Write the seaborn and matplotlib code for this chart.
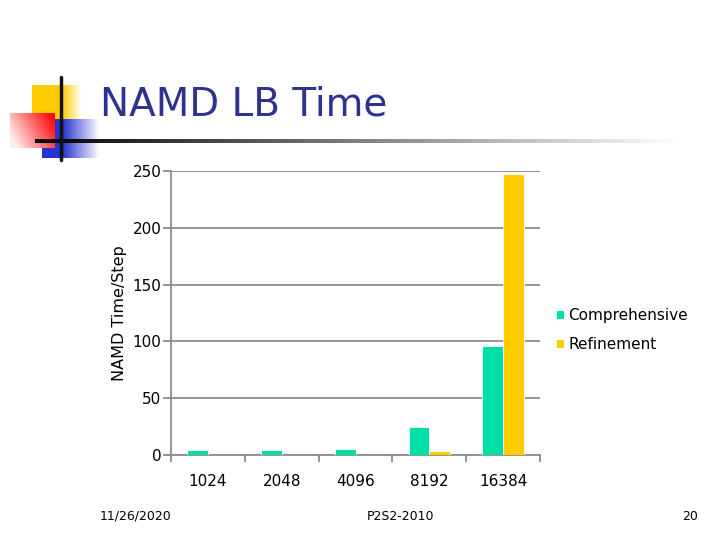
import numpy as np
import pandas as pd
import seaborn as sns
from matplotlib import pyplot as plt

# values
procs = ["1024", "2048", "4096", "8192", "16384"]
comprehensive = [4.5, 4.5, 5.5, 25, 96]
refinement = [0, 0, 0.3, 3.5, 247.5]
series_names = ["Comprehensive", "Refinement"]
y_ticks = [0, 50, 100, 150, 200, 250]

df = pd.DataFrame({
    "Processors": procs * 2,
    "Time": comprehensive + refinement,
    "Strategy": [series_names[0]] * len(procs) + [series_names[1]] * len(procs),
})

sns.set_style("white")
plt.rcParams['font.family'] = ['DejaVu Sans']
plt.rcParams['text.color'] = 'black'

fig = plt.figure(figsize=(7.2, 5.4), dpi=100)

# slide decorations drawn in pixel coordinates
bg = fig.add_axes([0, 0, 1, 1], zorder=-1)
bg.set_xlim(0, 720)
bg.set_ylim(540, 0)
bg.axis("off")


def fade_rect(ax, x0, x1, y0, y1, rgb, amount):
    # colour blended toward white, opaque
    rgb = np.array(rgb)
    img = amount[..., None] * rgb + (1 - amount[..., None]) * 1.0
    ax.imshow(img, extent=(x0, x1, y1, y0), interpolation="bilinear", aspect="auto")


n = 64
xs = np.linspace(0, 1, n)
xx, yy = np.meshgrid(xs, xs)
# yellow square, fading out on the right
fade_rect(bg, 32, 82, 85, 120, (1.0, 0.8, 0.0), np.clip((1 - xx) / 0.4, 0, 1))
# blue square, fading out on the right
fade_rect(bg, 42, 100, 119, 158, (0.15, 0.2, 0.8), np.clip((1 - xx) / 0.65, 0, 1))
# red square, strong on the right, pale at bottom-left
red_amt = np.clip(0.3 + 0.8 * xx - 0.35 * yy, 0.08, 1)
fade_rect(bg, 10, 55, 113, 148, (1.0, 0.05, 0.05), red_amt)
# lines
bg.plot([61, 61], [77, 160], color="#111111", lw=2.5)
grad = np.tile(np.linspace(0, 1, 256), (2, 1))
bg.imshow(grad, cmap="gray", vmin=0, vmax=1, extent=(35, 680, 143, 139),
          aspect="auto", interpolation="bilinear")

fig.text(100, 540 - 115, "NAMD LB Time", transform=None, fontsize=28,
         color="#2E3192", va="baseline", ha="left")

# chart
ax = fig.add_axes([171 / 720, 85 / 540, 369 / 720, 284 / 540])
sns.barplot(data=df, x="Processors", y="Time", hue="Strategy",
            palette=["#00DFA6", "#FFCC00"], width=0.56, ax=ax,
            saturation=1, errorbar=None, zorder=3, edgecolor="white", linewidth=0.6)
ax.set_ylim(0, 250)
ax.set_xlim(-0.5, len(procs) - 0.5)
ax.set_yticks(y_ticks)
ax.yaxis.grid(True, color="#8c8c8c", lw=1.3, zorder=0)
ax.set_axisbelow(True)
for s in ["top", "right"]:
    ax.spines[s].set_visible(False)
for s in ["left", "bottom"]:
    ax.spines[s].set_color("#8c8c8c")
    ax.spines[s].set_linewidth(1.3)
ax.tick_params(axis="y", left=True, length=6, width=1.3, color="#8c8c8c",
               pad=1, labelsize=11, labelcolor="black")
ax.tick_params(axis="x", bottom=False, length=0, pad=14, labelsize=11,
               labelcolor="black")
ax.set_xticks(np.arange(len(procs) + 1) - 0.5, minor=True)
ax.tick_params(axis="x", which="minor", bottom=True, length=5, width=1.3,
               color="#8c8c8c")
ax.set_xlabel("")
ax.set_ylabel("NAMD Time/Step", fontsize=11.5, color="black")
ax.yaxis.set_label_coords(-0.12, 0.5)

handles, labels = ax.get_legend_handles_labels()
ax.get_legend().remove()
fig.legend(handles, labels, loc="upper left", bbox_to_anchor=(556 / 720, 1 - 308 / 540),
           frameon=False, fontsize=11, handlelength=0.55, handleheight=0.55,
           handletextpad=0.25, labelspacing=0.9, borderaxespad=0, borderpad=0)

# footer
fig.text(100, 540 - 516, "11/26/2020", transform=None, fontsize=9, va="center")
fig.text(400, 540 - 516, "P2S2-2010", transform=None, fontsize=9, va="center", ha="center")
fig.text(698, 540 - 516, "20", transform=None, fontsize=9, va="center", ha="right")

plt.savefig("out.png", dpi=100)
